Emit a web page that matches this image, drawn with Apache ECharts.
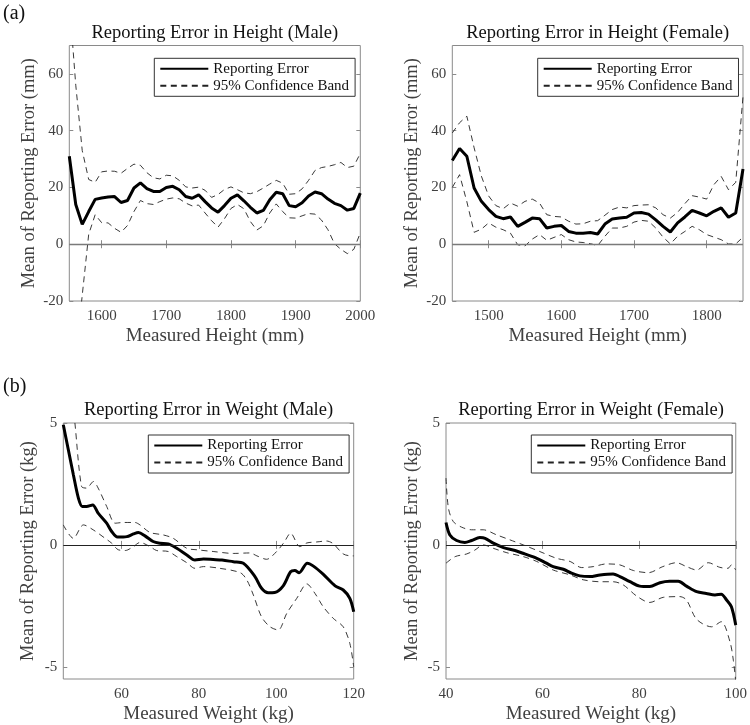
<!DOCTYPE html>
<html><head><meta charset="utf-8">
<script src="https://cdn.jsdelivr.net/npm/echarts@6/dist/echarts.min.js"></script>
<style>html,body{margin:0;padding:0;background:#fff}#c{width:750px;height:725px}</style>
</head><body><div id="c"></div>
<script>
// ---------- Data ----------
// (a) Height, male
const hmX = [1550,1560,1570,1580,1590,1600,1610,1620,1630,1640,1650,1660,1670,1680,1690,1700,1710,1720,1730,1740,1750,1760,1770,1780,1790,1800,1810,1820,1830,1840,1850,1860,1870,1880,1890,1900,1910,1920,1930,1940,1950,1960,1970,1980,1990,2000];
const hmMean = [31,14,7,11.5,15.8,16.3,16.6,16.8,14.7,15.4,19.8,21.6,19.6,18.6,18.6,20,20.4,19.2,16.8,16.2,17.4,15,12.8,11.3,13.6,16.2,17.4,15.3,13,11,11.9,15.7,18.3,17.8,13.6,13.2,14.6,17,18.4,17.8,15.9,14.4,13.6,12,12.6,18];
const hmUpper = [86,56,33,22.8,21.8,25.5,25.8,25.7,25,26.7,28.2,27.8,25.2,23.4,23,24.3,24.1,22.5,20.2,19.8,20.1,19,16.5,17.5,19.3,20.2,19.2,18.1,17.8,18.5,19.8,21.2,22.5,21.5,17.6,17.8,19.5,22.5,26,27,27.4,28,28.8,27,27.5,32];
const hmLower = [-30,-40,-18,3.5,10.4,7.6,7.5,5.6,4.2,6.6,11.5,15.4,14.3,14,15,15.9,16.3,16,14.5,13.5,13.8,11,8.3,6,9,12.6,14,12.5,8,5,6.5,11,14.2,11.5,9.3,9.2,10,10.8,10.6,8.5,5.1,0.2,-1.8,-3.3,-1.8,4];
// (a) Height, female
const hfX = [1450,1460,1470,1480,1490,1500,1510,1520,1530,1540,1550,1560,1570,1580,1590,1600,1610,1620,1630,1640,1650,1660,1670,1680,1690,1700,1710,1720,1730,1740,1750,1760,1770,1780,1790,1800,1810,1820,1830,1840,1850];
const hfMean = [29.5,33.7,31,19.8,15.1,12.2,9.8,9,9.6,6.3,7.7,9.2,9,5.7,6.3,6.6,4.5,3.9,3.9,4.1,3.6,7.1,8.9,9.2,9.5,11,11.2,10.6,8.6,6.3,4.3,7.5,9.6,11.9,11,10,11.6,12.8,9.5,11,26.5];
const hfUpper = [39.2,42.8,45.1,34,24,17,13.6,12.5,14.5,13.4,15.1,15.9,14.5,10.4,9.8,9.6,8.1,7.1,7.2,8.1,8.3,10.2,12.2,13.1,12.8,13.6,13.8,13.9,12.8,10.4,9.2,11.2,14.3,17.1,16.6,15.9,21,23.9,19.2,21.8,52];
const hfLower = [20,24.5,15,4.2,5.3,7.5,6,5.1,3.9,-0.2,-0.6,1.8,3.4,1.4,2.4,3.4,1.6,0.8,0.6,0.2,-0.5,2.8,5.7,5.7,6.3,7.8,8.4,8.1,5.7,2.5,0.1,2.8,4.5,6.3,5.1,3.4,2.5,1.6,0.1,0.1,2.5];
// (b) Weight, male
const mwMeanX = [45,46.3,47.6,48.9,49.9,51,52.6,54,56.2,57.5,59,61.4,63.1,64.4,66.1,68.2,70,72.1,74.3,76.9,79,81.2,83.7,86,88.9,91.5,94.5,96.2,97.9,99.6,101.8,103.7,104.8,105.9,108,109.5,112.1,115.2,117.3,119,120];
const mwMean = [4.93,3.9,2.88,1.92,1.58,1.58,1.64,1.3,0.89,0.55,0.32,0.34,0.45,0.51,0.37,0.14,0.07,0.04,-0.14,-0.41,-0.62,-0.58,-0.6,-0.62,-0.69,-0.75,-1.3,-1.78,-1.96,-1.95,-1.68,-1.1,-1.05,-1.14,-0.75,-0.86,-1.2,-1.68,-1.85,-2.19,-2.74];
const mwUpperX = [46,48,49.7,51,52.8,54,56.2,58.4,60.5,63.5,64.8,67.4,70.8,73.4,76.9,79.5,83.7,88.9,93.2,95,97.5,100.1,102,103.7,106.1,107.9,110.4,113,114.7,117.3,119.5,120];
const mwUpper = [8,5,2.4,2.33,2.6,2.33,1.58,0.89,0.92,0.92,0.82,0.51,0.41,0.27,-0.14,-0.2,-0.27,-0.35,-0.33,-0.45,-0.59,-0.27,0.1,0.48,-0.07,0.08,0.12,0.16,0.05,-0.37,-0.45,-0.45];
const mwLowerX = [45,47.6,50.2,52.7,55.8,57.5,59.2,61,63.1,64.8,67.4,69.1,72.1,74.3,76.9,79,81.2,85,90.7,92.4,94.1,96.2,98.4,100.5,102.7,105.3,107.9,110,112.1,114.7,117.3,119,120];
const mwLower = [0.82,0.27,0.82,0.62,0.27,0.07,-0.2,-0.23,-0.07,0.1,-0.07,-0.23,-0.27,-0.48,-0.73,-0.96,-0.89,-0.95,-1.14,-1.44,-2.06,-2.95,-3.36,-3.49,-2.81,-2.19,-1.6,-1.99,-2.53,-3.01,-3.36,-4.04,-5.0];
// (b) Weight, female
const fwMeanX = [40,40.8,42.2,43.9,45.3,47,48.1,49.8,51.9,54.3,56.3,58.8,60.8,62.2,64.3,66,67.7,69.8,71.9,74.6,76,78.1,80.1,82.2,84.3,86.3,88.1,89.8,91.9,93.9,95.7,97,98.1,99.1,100];
const fwMean = [0.92,0.41,0.18,0.1,0.18,0.3,0.27,0.07,-0.11,-0.23,-0.37,-0.55,-0.75,-0.89,-1.0,-1.16,-1.27,-1.3,-1.23,-1.19,-1.3,-1.51,-1.69,-1.71,-1.55,-1.49,-1.49,-1.69,-1.92,-1.99,-2.05,-2.02,-2.26,-2.54,-3.29];
const fwUpperX = [40,40.5,41.5,43.2,45.3,47.7,50.5,53.2,56,59.4,62.9,65.7,68.1,70.5,73.2,76,78.8,81.9,84.9,87.7,89.8,91.9,94.3,96.7,98.4,99.1,100];
const fwUpper = [2.74,1.51,0.96,0.73,0.62,0.62,0.41,0.21,0,-0.27,-0.55,-0.68,-0.93,-0.89,-0.78,-0.82,-1.05,-1.14,-0.89,-0.73,-0.89,-1.03,-0.73,-0.92,-0.96,-0.82,-1.03];
const fwLowerX = [40,41.9,44.3,46,47.7,49.8,52.6,56,58.8,62.2,65.7,68.4,71.9,74.6,76.7,79.5,82.2,85,88.4,89.8,91.9,95,97,98.8,99.5,100];
const fwLower = [-0.75,-0.48,-0.37,-0.21,0,-0.14,-0.32,-0.48,-0.68,-1.03,-1.23,-1.43,-1.51,-1.51,-1.64,-2.1,-2.36,-2.15,-2.12,-2.26,-3.05,-3.36,-3.15,-3.97,-4.73,-5.6];

// Tick labels
const hmTicks = [1600,1700,1800,1900,2000];
const hfTicks = [1500,1600,1700,1800];
const mwTicks = [60,80,100,120];
const fwTicks = [40,60,80,100];
const hTicksY = [-20,0,20,40,60];
const wTicksY = [-5,0,5];

const titles = ['Reporting Error in Height (Male)','Reporting Error in Height (Female)','Reporting Error in Weight (Male)','Reporting Error in Weight (Female)'];
const xNames = ['Measured Height (mm)','Measured Height (mm)','Measured Weight (kg)','Measured Weight (kg)'];
const yNames = ['Mean of Reporting Error (mm)','Mean of Reporting Error (mm)','Mean of Reporting Error (kg)','Mean of Reporting Error (kg)'];
const NAME_MEAN = 'Reporting Error';
const NAME_BAND = '95% Confidence Band';

// ---------- Build ----------
const FONT = "'Liberation Serif','Times New Roman',serif";
const AX = '#8a8a8a', LBL = '#404040';
function pairs(xs, ys){ return xs.map((x,i)=>[x, ys[i]]); }
const plain = v => String(v);

const grids = [
  {left:69.3, top:45.5, width:291, height:255.5},
  {left:452.3, top:45.5, width:290.7, height:255.5},
  {left:63.3, top:423, width:290.4, height:256.3},
  {left:446, top:423, width:290, height:256.3}
].map(g => Object.assign(g, {show:true, borderColor:AX, borderWidth:1, backgroundColor:'transparent', containLabel:false}));

const xr = [[1550,2000,hmTicks],[1450,1850,hfTicks],[45,120,mwTicks],[40,100,fwTicks]];
const yr = [[-20,70,hTicksY],[-20,70,hTicksY],[-5.5,5,wTicksY],[-5.5,5,wTicksY]];
const yNameGap = [31,31,26,24];

const xAxis = [], yAxis = [];
for (let i=0;i<4;i++){
  const [mn,mx,tk] = xr[i];
  xAxis.push({type:'value', gridIndex:i, min:mn, max:mx, position:'bottom',
    axisLine:{show:false}, splitLine:{show:false},
    axisTick:{show:true, inside:true, length:4, customValues:tk, lineStyle:{color:AX}},
    axisLabel:{customValues:tk, formatter:plain, margin:8, color:LBL, fontFamily:FONT, fontSize:15},
    name:xNames[i], nameLocation:'middle', nameGap:26,
    nameTextStyle:{color:LBL, fontFamily:FONT, fontSize:19}});
  xAxis.push({type:'value', gridIndex:i, min:mn, max:mx, position:'top',
    axisLine:{show:false}, splitLine:{show:false},
    axisTick:{show:true, inside:true, length:4, customValues:tk, lineStyle:{color:AX}},
    axisLabel:{show:false}});
  const [ymn,ymx,ytk] = yr[i];
  yAxis.push({type:'value', gridIndex:i, min:ymn, max:ymx, position:'left',
    axisLine:{show:false}, splitLine:{show:false},
    axisTick:{show:true, inside:true, length:4, customValues:ytk, lineStyle:{color:AX}},
    axisLabel:{customValues:ytk, formatter:plain, margin:6, color:LBL, fontFamily:FONT, fontSize:15},
    name:yNames[i], nameLocation:'middle', nameGap:yNameGap[i], nameRotate:90,
    nameTextStyle:{color:LBL, fontFamily:FONT, fontSize:18.5}});
  yAxis.push({type:'value', gridIndex:i, min:ymn, max:ymx, position:'right',
    axisLine:{show:false}, splitLine:{show:false},
    axisTick:{show:true, inside:true, length:4, customValues:ytk, lineStyle:{color:AX}},
    axisLabel:{show:false}});
}

const panels = [
  {mean:pairs(hmX,hmMean), up:pairs(hmX,hmUpper), lo:pairs(hmX,hmLower), smooth:false, zc:'#7a7a7a', zw:1.4},
  {mean:pairs(hfX,hfMean), up:pairs(hfX,hfUpper), lo:pairs(hfX,hfLower), smooth:false, zc:'#7a7a7a', zw:1.4},
  {mean:pairs(mwMeanX,mwMean), up:pairs(mwUpperX,mwUpper), lo:pairs(mwLowerX,mwLower), smooth:0.3, zc:'#222', zw:1},
  {mean:pairs(fwMeanX,fwMean), up:pairs(fwUpperX,fwUpper), lo:pairs(fwLowerX,fwLower), smooth:0.3, zc:'#222', zw:1}
];
const series = [];
panels.forEach((p,i)=>{
  const base = {type:'line', xAxisIndex:2*i, yAxisIndex:2*i, symbol:'none', showSymbol:false, clip:true, animation:false, smooth:p.smooth, silent:true};
  series.push(Object.assign({}, base, {name:NAME_BAND, data:p.lo, z:2,
    lineStyle:{color:'#222', width:0.9, type:[6,4.5]}, itemStyle:{color:'#222'},
    markLine:{silent:true, symbol:'none', label:{show:false}, animation:false,
      lineStyle:{color:p.zc, width:p.zw, type:'solid'}, data:[{yAxis:0}]}}));
  series.push(Object.assign({}, base, {name:NAME_BAND, data:p.up, z:2,
    lineStyle:{color:'#222', width:0.9, type:[6,4.5]}, itemStyle:{color:'#222'}}));
  series.push(Object.assign({}, base, {name:NAME_MEAN, data:p.mean, z:3,
    lineStyle:{color:'#000', width:3}, itemStyle:{color:'#000'}}));
});

const legendPos = [[154.3,58.3],[537.7,58.3],[148.3,435],[531.3,435]];
const legend = legendPos.map(([l,t])=>({left:l, top:t, orient:'vertical', selectedMode:false,
  itemWidth:48, itemHeight:14, itemGap:2, padding:[3,6,3,5],
  borderColor:'#333', borderWidth:1, backgroundColor:'#fff',
  itemStyle:{opacity:0, color:'transparent', borderWidth:0},
  textStyle:{fontFamily:FONT, fontSize:15, color:'#111'},
  data:[NAME_MEAN, NAME_BAND]}));

const titleCfg = [];
grids.forEach((g,i)=>{
  titleCfg.push({text:titles[i], left:g.left+g.width/2, top:g.top-22, textAlign:'center', padding:0,
    textStyle:{fontFamily:FONT, fontSize:18.5, fontWeight:'normal', color:'#111'}});
});
titleCfg.push({text:'(a)', left:3, top:4, padding:0, textStyle:{fontFamily:FONT, fontSize:20, fontWeight:'normal', color:'#111'}});
titleCfg.push({text:'(b)', left:3, top:377, padding:0, textStyle:{fontFamily:FONT, fontSize:20, fontWeight:'normal', color:'#111'}});

const chart = echarts.init(document.getElementById('c'), null, {renderer:'canvas'});
chart.setOption({animation:false, backgroundColor:'#fff', title:titleCfg, legend, grid:grids, xAxis, yAxis, series});
</script></body></html>
